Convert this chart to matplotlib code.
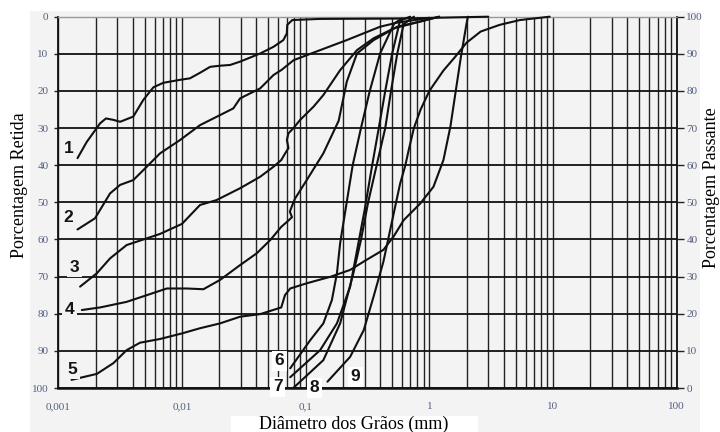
import matplotlib
matplotlib.use("Agg")
import matplotlib.pyplot as plt
from matplotlib.patches import Rectangle
from matplotlib.ticker import FixedLocator, LogLocator, NullFormatter

# ---- data (diameter mm, % retained) ----
d1 = [0.00143, 0.0017, 0.00218, 0.00243, 0.0028, 0.00316, 0.00404, 0.00487, 0.00588, 0.00707,
      0.00966, 0.0116, 0.014, 0.0169, 0.0203, 0.0245, 0.0295, 0.0429, 0.055, 0.066, 0.0704,
      0.071, 0.078, 0.13, 0.58, 1.5, 3.0]
r1 = [38.1, 33.7, 28.7, 27.4, 27.8, 28.3, 26.9, 22.4, 19.0, 17.8, 17.0, 16.6, 15.1, 13.5, 13.2,
      13.0, 12.1, 9.9, 8.1, 6.3, 4.5, 2.2, 0.9, 0.6, 0.5, 0.2, 0.0]

d2 = [0.00143, 0.00198, 0.00262, 0.00316, 0.00404, 0.00519, 0.00665, 0.00966, 0.014, 0.0203,
      0.026, 0.0295, 0.0429, 0.055, 0.064, 0.08, 0.131, 0.215, 0.40, 0.55, 1.0]
r2 = [57.3, 54.3, 47.6, 45.3, 44.0, 40.4, 36.8, 33.2, 29.2, 26.5, 24.7, 22.0, 19.3, 15.7, 14.3,
      11.7, 9.0, 6.3, 2.7, 1.6, 0.3]

d3 = [0.0015, 0.00205, 0.00262, 0.00357, 0.00458, 0.00665, 0.01, 0.014, 0.019, 0.0295, 0.0429,
      0.055, 0.0635, 0.0683, 0.0726, 0.0705, 0.0726, 0.0797, 0.0902, 0.116, 0.139, 0.19, 0.26,
      0.355, 0.52, 0.845, 1.2]
r3 = [72.7, 69.1, 65.1, 61.5, 60.3, 58.5, 55.8, 50.7, 49.4, 46.2, 43.1, 40.4, 38.6, 36.8, 35.4,
      33.2, 31.4, 30.0, 27.8, 24.2, 21.1, 14.4, 9.0, 5.8, 3.1, 1.3, 0.0]

d4 = [0.00155, 0.00218, 0.00357, 0.00519, 0.00754, 0.0109, 0.0149, 0.0203, 0.0295, 0.0403,
      0.0519, 0.0635, 0.072, 0.0775, 0.0745, 0.0775, 0.082, 0.102, 0.139, 0.185, 0.215, 0.26,
      0.355, 0.55, 0.845, 1.2]
r4 = [79.0, 78.3, 76.8, 75.0, 73.2, 73.2, 73.4, 70.9, 66.9, 63.7, 60.1, 56.6, 55.0, 54.0, 52.5,
      51.0, 49.0, 44.0, 36.8, 28.0, 17.5, 9.9, 6.3, 2.7, 1.3, 0.0]

d5 = [0.00128, 0.00205, 0.00279, 0.00357, 0.00458, 0.00665, 0.01, 0.014, 0.0203, 0.0295, 0.0429,
      0.0635, 0.068, 0.075, 0.102, 0.16, 0.229, 0.31, 0.425, 0.514, 0.62, 0.845, 1.08, 1.30,
      1.48, 1.64, 1.80, 2.00, 2.05]
r5 = [97.8, 96.2, 93.3, 89.8, 87.8, 86.8, 85.3, 83.9, 82.6, 80.8, 80.1, 78.3, 75.0, 73.2, 71.8,
      70.0, 68.2, 65.5, 62.8, 59.2, 54.8, 50.3, 45.8, 38.6, 29.6, 19.7, 10.8, 1.8, 0.0]

d6 = [0.075, 0.109, 0.139, 0.163, 0.179, 0.19, 0.24, 0.28, 0.33, 0.40, 0.52, 0.60]
r6 = [94.7, 87.1, 82.6, 76.3, 69.1, 61.0, 40.0, 30.0, 20.0, 9.9, 1.8, 0.5]

d7 = [0.075, 0.131, 0.179, 0.229, 0.26, 0.30, 0.345, 0.39, 0.44, 0.50, 0.58, 0.70]
r7 = [97.1, 89.8, 82.6, 72.7, 63.0, 52.0, 40.0, 30.0, 20.0, 10.0, 1.0, 0.0]

d8 = [0.080, 0.139, 0.19, 0.243, 0.28, 0.32, 0.375, 0.44, 0.49, 0.55, 0.62, 0.75]
r8 = [99.9, 92.5, 82.6, 69.1, 60.1, 50.0, 40.0, 30.0, 20.0, 10.0, 2.0, 0.0]

d9 = [0.150, 0.229, 0.295, 0.354, 0.425, 0.50, 0.58, 0.64, 0.68, 0.75, 0.85, 1.0, 1.3, 1.6, 2.0,
      2.6, 3.7, 5.4, 9.4]
r9 = [98.3, 91.6, 84.4, 75.4, 66.0, 55.0, 45.0, 40.0, 36.0, 30.0, 25.0, 20.0, 14.5, 11.0, 7.0,
      4.0, 2.2, 0.9, 0.0]

curve_names = ["1", "2", "3", "4", "5", "6", "7", "8", "9"]
curve_x = [d1, d2, d3, d4, d5, d6, d7, d8, d9]
curve_y = [r1, r2, r3, r4, r5, r6, r7, r8, r9]
# label anchor positions (diameter, % retained)
label_x = [0.00121, 0.00121, 0.00135, 0.00124, 0.00130, 0.0616, 0.0593, 0.118, 0.251]
label_y = [35.4, 54.2, 67.5, 78.9, 94.9, 92.7, 99.7, 100.0, 97.0]

x_ticks = [0.001, 0.01, 0.1, 1, 10, 100]
x_tick_labels = ["0,001", "0,01", "0,1", "1", "10", "100"]
y_ticks = list(range(0, 101, 10))

W, H = 720, 432
fig = plt.figure(figsize=(7.2, 4.32), dpi=100)
fig.patch.set_facecolor("white")
bg = "#f3f3f3"
fig.add_artist(Rectangle((30 / W, 0), (700 - 30) / W, (H - 11) / H,
                         transform=fig.transFigure, facecolor=bg, edgecolor="none", zorder=0))
fig.add_artist(Rectangle((231 / W, 0), (478 - 231) / W, 16 / H,
                         transform=fig.transFigure, facecolor="white", edgecolor="none", zorder=0.5))

left, right, top, bottom = 58.3, 676.7, 16.7, 388.0
ax = fig.add_axes([left / W, 1 - bottom / H, (right - left) / W, (bottom - top) / H])
ax.set_facecolor(bg)
ax.set_xscale("log")
ax.set_xlim(0.001, 100)
ax.set_ylim(100, 0)

tick_color = "#55607f"
serif = "Liberation Serif"

ax.xaxis.set_major_locator(FixedLocator(x_ticks))
ax.set_xticklabels(x_tick_labels, fontsize=8, family=serif, color=tick_color)
ax.xaxis.set_minor_locator(LogLocator(base=10, subs=range(2, 10), numticks=20))
ax.xaxis.set_minor_formatter(NullFormatter())
ax.tick_params(axis="x", which="both", length=0, pad=10)
ax.set_yticks(y_ticks)
ax.set_yticklabels([str(v) for v in y_ticks], fontsize=8, family=serif, color=tick_color)
ax.tick_params(axis="y", length=3, width=1, color="#222222", pad=4)

ax.grid(which="major", axis="y", color="#111111", lw=1.3)
ax.grid(which="both", axis="x", color="#222222", lw=1.0)

for s in ["left", "right"]:
    ax.spines[s].set_color("#111111")
    ax.spines[s].set_linewidth(1.3)
ax.spines["bottom"].set_color("#111111")
ax.spines["bottom"].set_linewidth(1.8)
ax.spines["top"].set_color("#999999")
ax.spines["top"].set_linewidth(1.0)

for xs, ys in zip(curve_x, curve_y):
    ax.plot(xs, ys, color="#111111", lw=1.5, solid_capstyle="round",
            solid_joinstyle="round", zorder=3, clip_on=False)

for i, (name, lx, ly) in enumerate(zip(curve_names, label_x, label_y)):
    fc = bg if i < 5 else "white"
    ax.text(lx, ly, name, fontsize=12.5, fontweight="bold", family="Liberation Sans",
            color="#141414", ha="center", va="center", zorder=5, clip_on=False,
            bbox=dict(boxstyle="square,pad=0.15", facecolor=fc, edgecolor="none"))

ax2 = ax.twinx()
ax2.set_ylim(0, 100)
ax2.set_yticks(y_ticks)
ax2.set_yticklabels([str(v) for v in y_ticks], fontsize=8, family=serif, color=tick_color)
ax2.tick_params(axis="y", length=5, width=1, color="#222222", pad=2)
for s in ["left", "right", "top", "bottom"]:
    ax2.spines[s].set_visible(False)

fig.text(20 / W, 1 - 185 / H, "Porcentagem Retida", rotation=90, fontsize=13, family=serif,
         ha="center", va="center")
fig.text(712 / W, 1 - 188 / H, "Porcentagem Passante", rotation=90, fontsize=13, family=serif,
         ha="center", va="center")
fig.text(354 / W, 1 - 424 / H, "Diâmetro dos Grãos (mm)", fontsize=13, family=serif,
         ha="center", va="center")

fig.savefig("out.png", dpi=100, facecolor=fig.get_facecolor())
